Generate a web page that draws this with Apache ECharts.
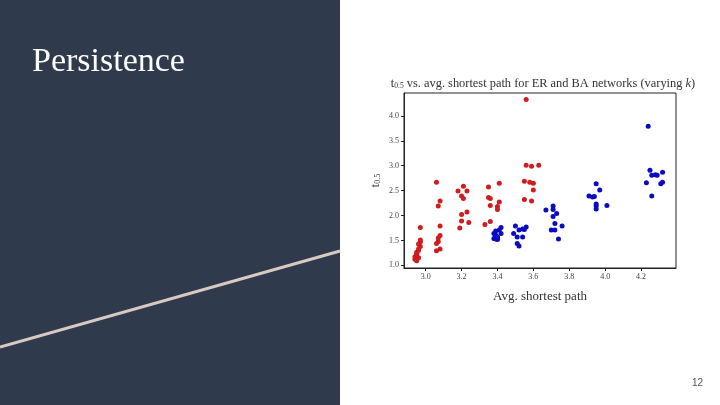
<!DOCTYPE html>
<html><head><meta charset="utf-8">
<script src="https://cdn.jsdelivr.net/npm/echarts@6/dist/echarts.min.js"></script>
<style>html,body{margin:0;padding:0;background:#fff}#c{width:720px;height:405px}</style>
</head><body><div id="c"></div>
<script>
const xTicks = [3.0, 3.2, 3.4, 3.6, 3.8, 4.0, 4.2];
const yTicks = [1.0, 1.5, 2.0, 2.5, 3.0, 3.5, 4.0];
const erPoints = [
  [2.97,1.76],[2.97,1.51],[2.97,1.47],[2.96,1.43],[2.97,1.38],[2.96,1.30],[2.95,1.26],[2.95,1.21],[2.94,1.17],[2.96,1.15],[2.94,1.12],[2.95,1.09],[2.95,1.24],[2.96,1.33],
  [3.06,2.67],[3.08,2.29],[3.07,2.19],[3.08,1.79],[3.08,1.60],[3.07,1.55],[3.07,1.48],[3.06,1.44],[3.06,1.29],[3.08,1.33],
  [3.18,2.49],[3.21,2.59],[3.23,2.49],[3.20,2.39],[3.21,2.34],[3.20,2.02],[3.23,2.07],[3.20,1.89],[3.24,1.86],[3.19,1.75],
  [3.35,2.57],[3.41,2.65],[3.35,2.36],[3.36,2.34],[3.41,2.27],[3.36,2.20],[3.40,2.18],[3.40,2.12],[3.36,1.88],[3.33,1.82],
  [3.56,4.33],[3.56,3.01],[3.59,2.99],[3.63,3.01],[3.55,2.69],[3.58,2.67],[3.60,2.65],[3.60,2.51],[3.55,2.32],[3.59,2.29]
];
const baPoints = [
  [3.39,1.69],[3.42,1.76],[3.42,1.64],[3.38,1.64],[3.39,1.59],[3.40,1.56],[3.38,1.54],[3.40,1.52],[3.39,1.61],[3.40,1.57],[3.41,1.71],[3.39,1.53],
  [3.50,1.79],[3.56,1.77],[3.54,1.73],[3.52,1.71],[3.49,1.64],[3.51,1.57],[3.54,1.57],[3.51,1.44],[3.52,1.39],[3.55,1.72],
  [3.67,2.11],[3.71,2.19],[3.71,2.12],[3.73,2.04],[3.71,1.98],[3.72,1.84],[3.76,1.79],[3.70,1.71],[3.72,1.71],[3.74,1.53],
  [3.95,2.64],[3.97,2.51],[3.91,2.39],[3.93,2.37],[3.94,2.38],[3.95,2.23],[3.95,2.19],[3.95,2.13],[4.01,2.20],
  [4.24,3.79],[4.25,2.91],[4.26,2.81],[4.28,2.82],[4.29,2.81],[4.32,2.87],[4.23,2.66],[4.31,2.64],[4.32,2.67],[4.26,2.39]
];
const serif = '"Liberation Serif", "DejaVu Serif", serif';
const chart = echarts.init(document.getElementById('c'));
chart.setOption({
  animation: false,
  backgroundColor: '#ffffff',
  title: {
    text: '{t|t}{s|0.5}{t| vs. avg. shortest path for ER and BA networks (varying }{i|k}{t|)}',
    left: 538, top: 72, textAlign: 'center',
    textStyle: {
      fontWeight: 'normal',
      rich: {
        t: {fontFamily: serif, fontSize: 12.4, fontWeight: 'normal', color: '#333'},
        s: {fontFamily: serif, fontSize: 7.5, fontWeight: 'normal', color: '#333', padding: [5,0,0,0]},
        i: {fontFamily: serif, fontSize: 12.4, fontWeight: 'normal', fontStyle: 'italic', color: '#333'}
      }
    }
  },
  grid: {left: 404, top: 93, width: 272, height: 175, show: true, borderColor: '#222', borderWidth: 1, backgroundColor: 'transparent', containLabel: false},
  xAxis: {
    type: 'value', min: 2.879, max: 4.395,
    name: 'Avg. shortest path', nameLocation: 'middle', nameGap: 22,
    nameTextStyle: {fontFamily: serif, fontSize: 13, color: '#333'},
    axisLine: {show: true, onZero: false, lineStyle: {color: '#222', width: 1}},
    axisTick: {show: true, inside: false, length: 3, customValues: xTicks, lineStyle: {color: '#222'}},
    axisLabel: {customValues: xTicks, fontFamily: serif, fontSize: 8, color: '#444', margin: 5, formatter: v => v.toFixed(1)},
    splitLine: {show: false}
  },
  yAxis: {
    type: 'value', min: 0.946, max: 4.46,
    name: '{t|t}{s|0.5}', nameLocation: 'middle', nameGap: 22, nameRotate: 90,
    nameTextStyle: {rich: {
      t: {fontFamily: serif, fontSize: 12, color: '#333'},
      s: {fontFamily: serif, fontSize: 8, color: '#333', padding: [5,0,0,0]}
    }},
    axisLine: {show: true, onZero: false, lineStyle: {color: '#222', width: 1}},
    axisTick: {show: true, inside: false, length: 3, customValues: yTicks, lineStyle: {color: '#222'}},
    axisLabel: {customValues: yTicks, fontFamily: serif, fontSize: 8, color: '#444', margin: 5, formatter: v => v.toFixed(1)},
    splitLine: {show: false}
  },
  series: [
    {type: 'scatter', name: 'ER', data: erPoints, symbolSize: 5, itemStyle: {color: '#d01c1f', opacity: 1}},
    {type: 'scatter', name: 'BA', data: baPoints, symbolSize: 5, itemStyle: {color: '#0a0ac4', opacity: 1}}
  ],
  graphic: [
    {type: 'rect', shape: {x: 0, y: 0, width: 340, height: 405}, style: {fill: '#2f3a4c'}, z: -10},
    {type: 'line', shape: {x1: 0, y1: 347, x2: 340, y2: 251}, style: {stroke: '#d8c9c1', lineWidth: 3}, z: -9},
    {type: 'text', x: 32, y: 62, style: {text: 'Persistence', fill: '#ffffff', font: '34px "Liberation Serif", serif', verticalAlign: 'middle'}, z: -8},
    {type: 'text', x: 703, y: 383, style: {text: '12', fill: '#555', font: '10px "Liberation Sans", sans-serif', align: 'right', verticalAlign: 'middle'}}
  ]
});
</script></body></html>
